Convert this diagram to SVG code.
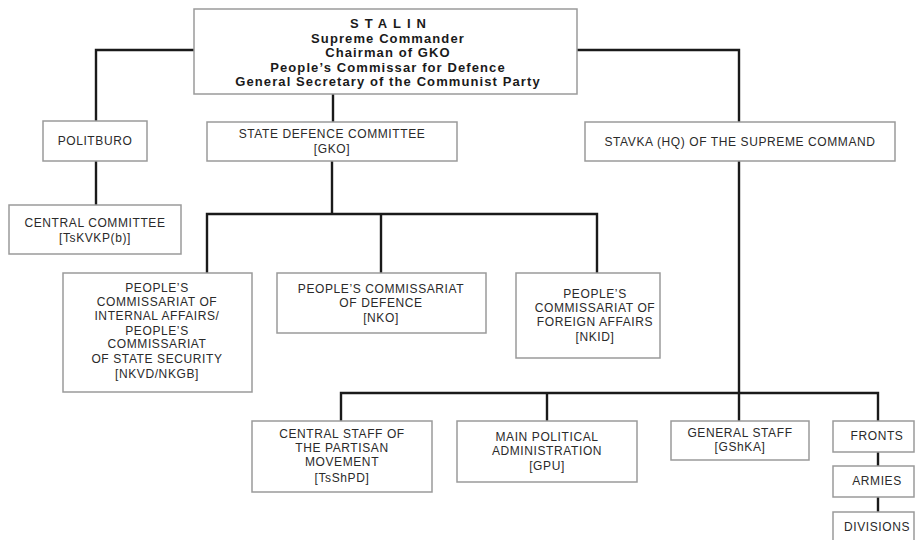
<svg xmlns="http://www.w3.org/2000/svg" width="915" height="540" viewBox="0 0 915 540">
<style>
  .box { fill: #ffffff; stroke: #9a9a9a; stroke-width: 1.5; }
  .ln { fill: none; stroke: #1a1a1a; stroke-width: 2.4; }
  .t { font-family: "Liberation Sans", Arial, sans-serif; font-size: 12px; letter-spacing: 0.6px; fill: #2a2a2a; text-anchor: middle; }
  .tb { font-family: "Liberation Sans", Arial, sans-serif; font-size: 13px; letter-spacing: 1.1px; font-weight: bold; fill: #1a1a1a; text-anchor: middle; }
  .wide { letter-spacing: 6px; }
</style>
<rect width="915" height="540" fill="#ffffff"/>
<g id="connectors">
  <polyline class="ln" points="194,50 96,50 96,121"/>
  <line class="ln" x1="96" y1="161" x2="96" y2="205"/>
  <polyline class="ln" points="577,50 739,50 739,122"/>
  <line class="ln" x1="333" y1="94" x2="333" y2="122"/>
  <line class="ln" x1="332" y1="161" x2="332" y2="214"/>
  <polyline class="ln" points="207,273 207,214 597,214 597,273"/>
  <line class="ln" x1="381" y1="214" x2="381" y2="273"/>
  <line class="ln" x1="739" y1="161" x2="739" y2="421"/>
  <polyline class="ln" points="341,421 341,393 878,393 878,421"/>
  <line class="ln" x1="547" y1="393" x2="547" y2="421"/>
  <line class="ln" x1="878" y1="452" x2="878" y2="466"/>
  <line class="ln" x1="878" y1="497" x2="878" y2="512"/>
</g>
<g id="stalin">
  <rect class="box" x="194" y="9" width="383" height="85"/>
  <text class="tb wide" x="391" y="28">STALIN</text>
  <text class="tb" x="388" y="43">Supreme Commander</text>
  <text class="tb" x="388" y="57">Chairman of GKO</text>
  <text class="tb" x="388" y="72">People’s Commissar for Defence</text>
  <text class="tb" x="388" y="86">General Secretary of the Communist Party</text>
</g>
<g id="politburo">
  <rect class="box" x="43" y="121" width="104" height="40"/>
  <text class="t" x="95" y="145">POLITBURO</text>
</g>
<g id="central-committee">
  <rect class="box" x="9" y="205" width="172" height="49"/>
  <text class="t" x="95" y="227">CENTRAL COMMITTEE</text>
  <text class="t" x="95" y="242">[TsKVKP(b)]</text>
</g>
<g id="gko">
  <rect class="box" x="207" y="122" width="250" height="39"/>
  <text class="t" x="332" y="138">STATE DEFENCE COMMITTEE</text>
  <text class="t" x="332" y="153">[GKO]</text>
</g>
<g id="stavka">
  <rect class="box" x="585" y="122" width="310" height="39"/>
  <text class="t" x="740" y="146">STAVKA (HQ) OF THE SUPREME COMMAND</text>
</g>
<g id="nkvd">
  <rect class="box" x="63" y="273" width="189" height="119"/>
  <text class="t" x="157" y="292">PEOPLE’S</text>
  <text class="t" x="157" y="306">COMMISSARIAT OF</text>
  <text class="t" x="157" y="320">INTERNAL AFFAIRS/</text>
  <text class="t" x="157" y="335">PEOPLE’S</text>
  <text class="t" x="157" y="348">COMMISSARIAT</text>
  <text class="t" x="157" y="363">OF STATE SECURITY</text>
  <text class="t" x="157" y="378">[NKVD/NKGB]</text>
</g>
<g id="nko">
  <rect class="box" x="277" y="273" width="209" height="60"/>
  <text class="t" x="381" y="293">PEOPLE’S COMMISSARIAT</text>
  <text class="t" x="381" y="307">OF DEFENCE</text>
  <text class="t" x="381" y="322">[NKO]</text>
</g>
<g id="nkid">
  <rect class="box" x="516" y="273" width="144" height="85"/>
  <text class="t" x="595" y="298">PEOPLE’S</text>
  <text class="t" x="595" y="312">COMMISSARIAT OF</text>
  <text class="t" x="595" y="326">FOREIGN AFFAIRS</text>
  <text class="t" x="595" y="341">[NKID]</text>
</g>
<g id="tsshpd">
  <rect class="box" x="252" y="421" width="180" height="71"/>
  <text class="t" x="342" y="438">CENTRAL STAFF OF</text>
  <text class="t" x="342" y="452">THE PARTISAN</text>
  <text class="t" x="342" y="466">MOVEMENT</text>
  <text class="t" x="342" y="482">[TsShPD]</text>
</g>
<g id="gpu">
  <rect class="box" x="457" y="421" width="180" height="61"/>
  <text class="t" x="547" y="441">MAIN POLITICAL</text>
  <text class="t" x="547" y="455">ADMINISTRATION</text>
  <text class="t" x="547" y="470">[GPU]</text>
</g>
<g id="general-staff">
  <rect class="box" x="671" y="421" width="138" height="39"/>
  <text class="t" x="740" y="437">GENERAL STAFF</text>
  <text class="t" x="740" y="451">[GShKA]</text>
</g>
<g id="fronts">
  <rect class="box" x="833" y="421" width="81" height="31"/>
  <text class="t" x="877" y="440">FRONTS</text>
</g>
<g id="armies">
  <rect class="box" x="833" y="466" width="81" height="31"/>
  <text class="t" x="877" y="485">ARMIES</text>
</g>
<g id="divisions">
  <rect class="box" x="833" y="512" width="81" height="32"/>
  <text class="t" x="877" y="531">DIVISIONS</text>
</g>
</svg>
